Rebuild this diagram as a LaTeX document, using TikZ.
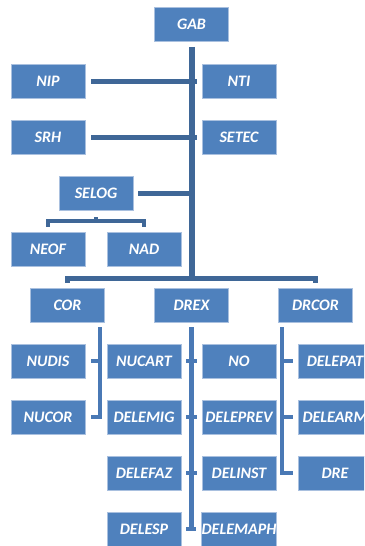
\documentclass[tikz,border=0pt]{standalone}
\usepackage{fontspec}
\setmainfont{Carlito}
\usepackage{xcolor}
\usepackage{tikz}
\usetikzlibrary{
    positioning,
    calc
}

\definecolor{boxblue}{HTML}{4F81BD}
\definecolor{boxedge}{HTML}{A9C0DF}
\definecolor{linedark}{HTML}{3F6797}
\definecolor{linemid}{HTML}{4A79B5}

\begin{document}
\begin{tikzpicture}[x=1pt, y=-1pt,
    obox/.style={draw=boxedge, line width=0.8pt, fill=boxblue, text=white,
                 minimum width=74pt, minimum height=34pt, inner sep=0.5pt,
                 font=\fontsize{16}{16}\selectfont\bfseries\itshape},
    trunk/.style={draw=linedark, line width=5.5pt},
    conn/.style={draw=linedark, line width=5pt},
    brace/.style={draw=linedark, line width=4pt},
    sub/.style={draw=linemid, line width=4.5pt}]

    \path[use as bounding box, fill=white] (0,0) rectangle (364,546);
    \clip (0,0) rectangle (364,546);

    % === TOP: cabinet and attached units ===
    \node[obox] (GAB)   at (191.5, 24.5) {GAB};
    \node[obox] (NIP)   at (48, 81)      {NIP};
    \node[obox] (NTI)   at (239, 81)     {NTI};
    \node[obox] (SRH)   at (48, 137)     {SRH};
    \node[obox] (SETEC) at (239, 137)    {SETEC};
    \node[obox] (SELOG) at (96, 193)     {SELOG};
    \node[obox] (NEOF)  at (48, 249)     {NEOF};
    \node[obox] (NAD)   at (144, 249)    {NAD};

    \coordinate (mainbar) at (192, 278);
    \coordinate (selogbar) at (96, 221);

    \draw[trunk] ([yshift=-5pt]GAB.south -| mainbar) -- (mainbar);
    \draw[conn] ([xshift=6pt]NIP.east) -- ([xshift=-5pt]NTI.west);
    \draw[conn] ([xshift=6pt]SRH.east) -- ([xshift=-5pt]SETEC.west);
    \draw[conn] ([xshift=5pt]SELOG.east) -- (mainbar |- SELOG);

    \draw[brace] ([yshift=-7pt]SELOG.south) -- (selogbar);
    \draw[brace] ([yshift=5pt]NEOF.north) |- (selogbar) -| ([yshift=5pt]NAD.north);

    % === MIDDLE: directorates ===
    \node[obox] (COR)   at (67.5, 305)  {COR};
    \node[obox] (DREX)  at (191.5, 305) {DREX};
    \node[obox] (DRCOR) at (315.5, 305) {DRCOR};

    \draw[conn] ([yshift=5pt]COR.north) |- (mainbar) -| ([yshift=5pt]DRCOR.north);

    % === BOTTOM: units under each directorate ===
    \node[obox] (NUDIS)    at (48, 361)  {NUDIS};
    \node[obox] (NUCOR)    at (48, 417)  {NUCOR};

    \node[obox] (NUCART)   at (144, 361) {NUCART};
    \node[obox] (DELEMIG)  at (144, 417) {DELEMIG};
    \node[obox] (DELEFAZ)  at (144, 473) {DELEFAZ};
    \node[obox] (DELESP)   at (144, 529) {DELESP};
    \node[obox] (NO)       at (239, 361) {NO};
    \node[obox] (DELEPREV) at (239, 417) {DELEPREV};
    \node[obox] (DELINST)  at (239, 473) {DELINST};
    \node[obox] (DELEMAPH) at (239, 529) {DELEMAPH};

    \node[obox] (DELEPAT)  at (335, 361) {DELEPAT};
    \node[obox] (DELEARM)  at (335, 417) {DELEARM};
    \node[obox] (DRE)      at (335, 473) {DRE};

    % COR branch
    \coordinate (corline) at ([xshift=-5pt,yshift=-5pt]COR.south east);
    \draw[sub] (corline) |- ([xshift=6pt]NUCOR.east);
    \draw[sub] ([xshift=6pt]NUDIS.east) -- (corline |- NUDIS);

    % DREX branch
    \draw[sub] ([yshift=-5pt]DREX.south) -- (DREX.south |- DELESP);
    \foreach \l/\r in {NUCART/NO, DELEMIG/DELEPREV, DELEFAZ/DELINST, DELESP/DELEMAPH}
      \draw[sub] ([xshift=5pt]\l.east) -- ([xshift=-5pt]\r.west);

    % DRCOR branch
    \coordinate (drcorline) at ([xshift=4pt,yshift=-5pt]DRCOR.south west);
    \draw[sub] (drcorline) |- ([xshift=-5pt]DRE.west);
    \foreach \n in {DELEPAT, DELEARM}
      \draw[sub] ([xshift=-5pt]\n.west) -- (drcorline |- \n);

  \end{tikzpicture}
\end{document}
